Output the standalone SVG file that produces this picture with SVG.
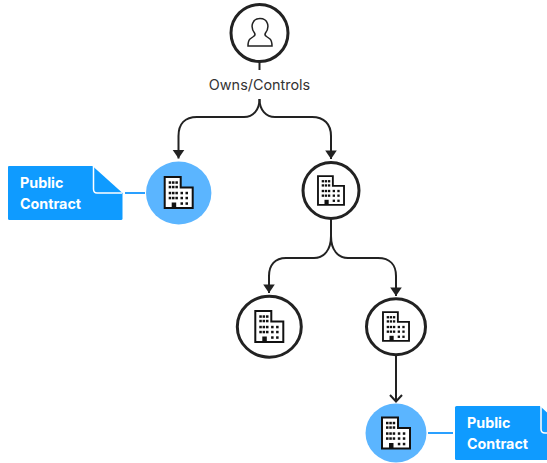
<svg xmlns="http://www.w3.org/2000/svg" width="547" height="463" viewBox="0 0 547 463">
<style>
.ring{fill:#fff;stroke:#222;stroke-width:3}
.blue{fill:#5bb5ff}
.edge{fill:none;stroke:#222;stroke-width:2}
.tie{fill:none;stroke:#2aa0ff;stroke-width:2}
.doc{fill:#0f9bff}
.foldline{fill:none;stroke:#fff;stroke-width:1.5}
.lbl{font-family:Inter,"Liberation Sans",sans-serif;font-size:14.3px;font-weight:700;fill:#fff}
.own{font-family:Inter,"Liberation Sans",sans-serif;font-size:14.4px;fill:#333}
</style>
<defs>
<marker id="solid" markerUnits="userSpaceOnUse" markerWidth="10" markerHeight="14" refX="9" refY="7" orient="auto" viewBox="0 0 10 14"><path d="M0.500 1.200L9 7L0.500 12.800Z" fill="#222"/></marker>
<g id="bld">
<path d="M-14-15.500H2V-5H14V15.500H-14Z" fill="#fff" stroke="#111" stroke-width="2"/>
<rect x="-7" y="10" width="4.500" height="5.500" fill="#111"/>
<g fill="#111">
<rect x="-10" y="-11.200" width="2.500" height="2.500"/><rect x="-6.700" y="-11.200" width="2.500" height="2.500"/><rect x="-3.300" y="-11.200" width="2.500" height="2.500"/>
<rect x="-10" y="-6.700" width="2.500" height="2.500"/><rect x="-6.700" y="-6.700" width="2.500" height="2.500"/><rect x="-3.300" y="-6.700" width="2.500" height="2.500"/>
<rect x="-10" y="-0.700" width="2.500" height="2.500"/><rect x="-6.700" y="-0.700" width="2.500" height="2.500"/><rect x="-3.300" y="-0.700" width="2.500" height="2.500"/><rect x="1.800" y="-0.700" width="2.500" height="2.500"/><rect x="6.800" y="-0.700" width="2.500" height="2.500"/>
<rect x="-10" y="4.300" width="2.500" height="2.500"/><rect x="-6.700" y="4.300" width="2.500" height="2.500"/><rect x="-3.300" y="4.300" width="2.500" height="2.500"/><rect x="1.800" y="4.300" width="2.500" height="2.500"/><rect x="6.800" y="4.300" width="2.500" height="2.500"/>
<rect x="1.800" y="9.800" width="2.500" height="2.500"/><rect x="6.800" y="9.800" width="2.500" height="2.500"/>
</g>
</g>
</defs>
<g id="connectors">
<path class="edge" d="M259.500 62V70"/>
<path class="edge" d="M259.500 99C259.500 110 253 117 244 117H197C185 117 178.500 124 178.500 136V158.500" marker-end="url(#solid)"/>
<path class="edge" d="M259.500 99C259.500 110 266 117 275 117H312C324 117 331 124 331 136V159" marker-end="url(#solid)"/>
<path class="edge" d="M331 219V236C331 250 324 258 314 258H286C275 258 269 265 269 276V293" marker-end="url(#solid)"/>
<path class="edge" d="M331 236C331 250 338 258 348 258H378C390 258 396 265 396 276V296" marker-end="url(#solid)"/>
<path class="edge" d="M396 356V401"/>
<path class="edge" d="M390 395L396 401.500L402 395"/>
<path class="tie" d="M125 193H145"/>
<path class="tie" d="M428 433H453"/>
</g>
<g id="owner">
<circle class="ring" cx="259.500" cy="33" r="28.500"/>
<path d="M254.500 33C250 27 252 18.500 260 18.500C268 18.500 270 27 265.500 33C264.500 34.500 265 35.500 266.500 36.500L270 39C271.500 40.500 272 43 272 46H248C248 43 248.500 40.500 250 39L253.500 36.500C255 35.500 255.500 34.500 254.500 33Z" fill="#fff" stroke="#222" stroke-width="1.500"/>
</g>
<g id="owns-label"><text class="own" x="259.500" y="90" text-anchor="middle">Owns/Controls</text></g>
<g id="company-a">
<ellipse class="blue" cx="178.700" cy="193" rx="32.700" ry="31.500"/>
<use href="#bld" x="178.700" y="192.500"/>
</g>
<g id="contract-a">
<path class="doc" d="M9 166H92.500L122.500 193V218.500Q122.500 220 121 220H9.500Q8 220 8 218.500V167Q8 166 9 166Z"/>
<path class="foldline" d="M93.500 166V189Q93.500 193 97 193H122"/>
<text class="lbl" x="20" y="188">Public</text>
<text class="lbl" x="20" y="209">Contract</text>
</g>
<g id="company-b">
<circle class="ring" cx="331" cy="190.500" r="28"/>
<use href="#bld" transform="translate(331 190.500) scale(.93)"/>
</g>
<g id="company-c">
<ellipse class="ring" cx="269.300" cy="326.700" rx="32" ry="30.500"/>
<use href="#bld" x="269.300" y="326.500"/>
</g>
<g id="company-d">
<ellipse class="ring" cx="396" cy="326.700" rx="29.500" ry="28"/>
<use href="#bld" transform="translate(396 326.500) scale(.93)"/>
</g>
<g id="company-e">
<ellipse class="blue" cx="396" cy="433" rx="30.500" ry="29.500"/>
<use href="#bld" x="396" y="433"/>
</g>
<g id="contract-b">
<path class="doc" d="M456.500 406H540L547 412.500V460H456.500Q455 460 455 458.500V407.500Q455 406 456.500 406Z"/>
<path class="foldline" d="M541 406V429Q541 433 545 433H547"/>
<text class="lbl" x="467" y="428">Public</text>
<text class="lbl" x="467" y="449">Contract</text>
</g>
</svg>
